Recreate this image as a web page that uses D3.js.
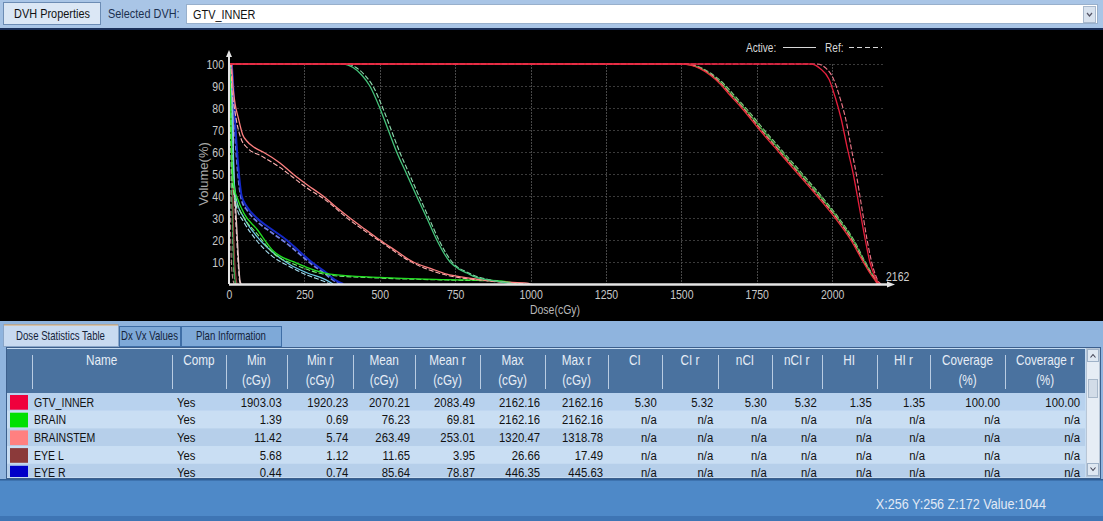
<!DOCTYPE html>
<html lang="en">
<head>
<meta charset="UTF-8">
<title>DVH Dose Statistics</title>
<script src="https://d3js.org/d3.v7.min.js"></script>
<style>
  body { margin: 0; background: #a9c5e6; overflow: hidden; }
  svg { display: block; font-family: "Liberation Sans", Arial, sans-serif; }
</style>
</head>
<body>
<div id="app"></div>
<script>
// ---- chart data (dose in cGy, volume in %) ----
const doseTicks = [0, 250, 500, 750, 1000, 1250, 1500, 1750, 2000];
const volumeTicks = [10, 20, 30, 40, 50, 60, 70, 80, 90, 100];
const doseMax = 2162;

const gtvActive = [[0,100],[1930,100],[1960,98],[1990,93],[2010,85],[2030,75],[2050,62],[2070,50],[2090,35],[2110,20],[2125,10],[2140,4],[2150,1],[2160,0]];
const gtvRef = [[0,100],[1950,100],[1980,98],[2005,93],[2025,85],[2045,75],[2063,62],[2080,50],[2098,35],[2116,20],[2131,10],[2144,4],[2154,1],[2162,0]];
const ptvActive = [[0,100],[1500,100],[1530,99.5],[1560,98],[1595,95],[1628,91],[1660,86],[1700,80],[1760,70],[1823,60],[1887,50],[1950,40],[2010,30],[2062,20],[2103,10],[2125,5],[2143,1.5],[2150,0]];
const ptvRef = [[0,100],[1505,100],[1535,99.5],[1565,98],[1600,95],[1633,91],[1665,86],[1705,80],[1765,70],[1828,60],[1892,50],[1955,40],[2015,30],[2066,20],[2106,10],[2128,5],[2145,1.5],[2152,0]];
const ctvActive = [[0,100],[1500,100],[1535,99.5],[1565,98],[1600,95],[1635,91],[1668,86],[1708,80],[1769,70],[1832,60],[1896,50],[1959,40],[2018,30],[2069,20],[2108,10],[2129,5],[2146,1.5],[2155,0]];
const ctvRef = [[0,100],[1505,100],[1540,99.5],[1570,98],[1606,95],[1641,91],[1674,86],[1714,80],[1775,70],[1838,60],[1902,50],[1964,40],[2022,30],[2072,20],[2110,10],[2131,5],[2148,1.5],[2157,0]];
const chiasmActive = [[0,100],[380,100],[395,99.5],[410,98.5],[440,95],[467,90],[500,80],[528,70],[556,60],[589,50],[622,40],[656,30],[689,20],[733,10],[760,7],[789,5],[820,3],[855,2],[900,1],[942,0]];
const chiasmRef = [[0,100],[392,100],[405,99.5],[420,98.5],[450,95],[477,90],[510,80],[538,70],[566,60],[598,50],[630,40],[663,30],[696,20],[740,10],[795,5],[860,2],[905,1],[945,0]];
const brainstemActive = [[0,100],[8,100],[13,90],[20,82],[30,76],[45,68],[59,65],[85,62],[113,60],[169,55],[212,50],[260,45],[312,40],[355,35],[401,30],[450,25],[500,20],[555,15],[611,10],[670,7],[722,4.5],[780,3],[832,2],[900,1],[988,0.4],[1000,0]];
const brainstemRef = [[0,100],[6,100],[10,88],[18,80],[25,74],[40,66],[60,62],[110,58],[169,53],[212,48.5],[260,43.5],[312,39],[401,29],[500,19.5],[611,9.5],[722,4],[832,1.8],[900,0.9],[985,0]];
const eyeRActive = [[0,100],[9,100],[14,90],[18,80],[22,70],[27,60],[33,50],[42,40],[60,35],[92,30],[140,25],[191,20],[232,15],[274,10],[324,5],[350,2],[379,0]];
const eyeRRef = [[0,100],[8,100],[13,88],[17,77],[21,66],[26,56],[32,47],[42,38],[60,33.5],[92,28.5],[140,23.5],[191,18.5],[235,13.5],[274,9],[320,4.5],[345,1.8],[372,0]];
const nerveLActive = [[0,100],[4,100],[8,90],[11,75],[14,60],[18,45],[25,38],[50,30],[90,22],[140,15],[200,9],[260,5],[320,2],[345,0]];
const nerveLRef = [[0,100],[3,98],[6,85],[9,70],[12,55],[16,42],[25,35],[50,28],[90,20],[140,13],[200,8],[260,4],[310,1.5],[335,0]];
const brainActive = [[0,100],[2,99],[5,85],[8,65],[12,50],[18,43],[25,40],[50,32],[92,25],[147,15],[224,9.5],[335,4.5],[500,3],[722,2],[888,1.5],[942,0.5],[960,0]];
const brainRef = [[0,100],[2,97],[4,80],[7,60],[10,48],[16,41],[25,37],[50,30],[92,23],[147,14],[224,8.5],[335,4],[500,2.7],[722,1.8],[888,1.3],[942,0.3],[950,0]];
const nerveRActive = [[0,100],[3,95],[6,80],[9,55],[12,30],[16,10],[20,2],[24,0]];
const nerveRRef = [[0,100],[2,93],[5,75],[8,50],[11,28],[15,9],[19,2],[22,0]];
const lensActive = [[0,100],[10,100],[13,80],[15,55],[20,40],[26,25],[31,12],[36,2],[40,0]];
const lensRef = [[0,100],[9,100],[12,78],[14,52],[19,37],[25,22],[30,10],[35,1.5],[38,0]];
const eyeLActive = [[0,100],[5,100],[7,90],[9,70],[12,45],[15,25],[19,10],[23,3],[26.7,0]];
const eyeLRef = [[0,100],[1,100],[2,80],[3,50],[5,25],[8,10],[12,3],[17.5,0]];

const curves = [
  { color: "#2ea84a", width: 1.3, active: nerveRActive, ref: nerveRRef },
  { color: "#e6c4c4", width: 1.3, active: lensActive, ref: lensRef },
  { color: "#8b3a3a", width: 1.3, active: eyeLActive, ref: eyeLRef },
  { color: "#6cc8e6", width: 1.3, active: nerveLActive, ref: nerveLRef },
  { color: "#1428c8", width: 2, active: eyeRActive, ref: eyeRRef },
  { color: "#22e022", width: 1.3, active: brainActive, ref: brainRef },
  { color: "#ff8080", width: 1.3, active: brainstemActive, ref: brainstemRef },
  { color: "#44c47a", width: 1.3, active: chiasmActive, ref: chiasmRef },
  { color: "#3fae3f", width: 1.3, active: ctvActive, ref: ctvRef },
  { color: "#e8303a", width: 1.3, active: ptvActive, ref: ptvRef },
  { color: "#e61e3c", width: 1.3, active: gtvActive, ref: gtvRef }
];

// ---- table data ----
const headerTop = ["Name", "Comp", "Min", "Min r", "Mean", "Mean r", "Max", "Max r", "CI", "CI r", "nCI", "nCI r", "HI", "HI r", "Coverage", "Coverage r"];
const headerSub = ["", "", "(cGy)", "(cGy)", "(cGy)", "(cGy)", "(cGy)", "(cGy)", "", "", "", "", "", "", "(%)", "(%)"];
const rowNames = ["GTV_INNER", "BRAIN", "BRAINSTEM", "EYE L", "EYE R"];
const rowColors = ["#f0003c", "#00e000", "#ff8080", "#8b3a3a", "#0000c8"];
const rowComp = ["Yes", "Yes", "Yes", "Yes", "Yes"];
const minDose = [1903.03, 1.39, 11.42, 5.68, 0.44];
const minDoseRef = [1920.23, 0.69, 5.74, 1.12, 0.74];
const meanDose = [2070.21, 76.23, 263.49, 11.65, 85.64];
const meanDoseRef = [2083.49, 69.81, 253.01, 3.95, 78.87];
const maxDose = [2162.16, 2162.16, 1320.47, 26.66, 446.35];
const maxDoseRef = [2162.16, 2162.16, 1318.78, 17.49, 445.63];
const ciVals = [5.30, null, null, null, null];
const ciRefVals = [5.32, null, null, null, null];
const nciVals = [5.30, null, null, null, null];
const nciRefVals = [5.32, null, null, null, null];
const hiVals = [1.35, null, null, null, null];
const hiRefVals = [1.35, null, null, null, null];
const coverage = [100.00, null, null, null, null];
const coverageRef = [100.00, null, null, null, null];

const W = 1103, H = 521;
const svg = d3.select("#app").append("svg").attr("width", W).attr("height", H);

// narrow text: the app uses a condensed face, squeeze Liberation Sans horizontally
function label(g, x, y, s, size, fill, anchor, sx) {
  return g.append("text")
    .attr("transform", `translate(${x},${y}) scale(${sx || 0.84},1)`)
    .attr("text-anchor", anchor || "start")
    .attr("font-size", size).attr("fill", fill).text(s);
}

// ---- top bar ----
svg.append("rect").attr("width", W).attr("height", 29).attr("fill", "#a9c5e6");
svg.append("rect").attr("x", 3.5).attr("y", 2.5).attr("width", 97).attr("height", 22)
  .attr("fill", "#dbe7f5").attr("stroke", "#6c8cb4");
label(svg, 52, 18, "DVH Properties", 13, "#111", "middle");
label(svg, 108, 18, "Selected DVH:", 13, "#1c3050");
svg.append("rect").attr("x", 186.5).attr("y", 4.5).attr("width", 911).attr("height", 19)
  .attr("fill", "#fff").attr("stroke", "#98b0cc");
label(svg, 193, 19, "GTV_INNER", 13, "#111");
svg.append("rect").attr("x", 1083.5).attr("y", 6.5).attr("width", 12).attr("height", 16)
  .attr("fill", "#d8e2ee").attr("stroke", "#a8b8cc");
svg.append("path").attr("d", "M1087,13 L1089.5,16 L1092,13").attr("fill", "none").attr("stroke", "#556").attr("stroke-width", 1.2);

// ---- chart panel ----
svg.append("rect").attr("y", 29).attr("width", W).attr("height", 292).attr("fill", "#000");
svg.append("rect").attr("y", 28).attr("width", W).attr("height", 2).attr("fill", "#1a2f58");

const x = d3.scaleLinear().domain([0, doseMax]).range([229, 881]);
const y = d3.scaleLinear().domain([0, 100]).range([284, 64]);

const chart = svg.append("g");

// grid
chart.append("g").selectAll("line").data(volumeTicks).join("line")
  .attr("x1", x(0)).attr("x2", x(doseMax) + 2)
  .attr("y1", d => y(d) + 0.5).attr("y2", d => y(d) + 0.5)
  .attr("stroke", "#3a3a3a").attr("stroke-dasharray", "2,2");
chart.append("g").selectAll("line").data(doseTicks.filter(d => d > 0)).join("line")
  .attr("x1", d => Math.round(x(d)) + 0.5).attr("x2", d => Math.round(x(d)) + 0.5)
  .attr("y1", y(100)).attr("y2", y(0))
  .attr("stroke", "#474747").attr("stroke-dasharray", "2,1");

// axes tick labels
const xAxis = chart.append("g").attr("transform", `translate(0,${y(0)})`)
  .call(d3.axisBottom(x).tickValues(doseTicks).tickSize(0).tickPadding(6).tickFormat(d3.format("d")));
const yAxis = chart.append("g").attr("transform", `translate(${x(0) - 5},0)`)
  .call(d3.axisLeft(y).tickValues(volumeTicks).tickSize(0).tickPadding(0));
[xAxis, yAxis].forEach(a => {
  a.select(".domain").remove();
  a.selectAll("text").attr("fill", "#c8c8c8").attr("font-size", 12.5)
    .style("font-family", "inherit").attr("transform", "scale(0.84,1)");
});

// curves
const clip = svg.append("clipPath").attr("id", "plotclip");
clip.append("rect").attr("x", x(0)).attr("y", y(100) - 3).attr("width", x(doseMax) - x(0) + 3).attr("height", y(0) - y(100) + 3);

const line = d3.line().x(d => x(d[0])).y(d => y(d[1])).curve(d3.curveMonotoneX);
const curveG = chart.append("g").attr("clip-path", "url(#plotclip)");
curves.forEach(c => {
  curveG.append("path").datum(c.ref).attr("d", line).attr("fill", "none")
    .attr("stroke", d3.interpolateRgb(c.color, "#ffffff")(0.4)).attr("stroke-width", c.width - 0.2)
    .attr("stroke-dasharray", "5,2");
  curveG.append("path").datum(c.active).attr("d", line).attr("fill", "none")
    .attr("stroke", c.color).attr("stroke-width", c.width);
});

// axis lines with arrows
chart.append("line").attr("x1", x(0)).attr("x2", 891).attr("y1", y(0) + 0.5).attr("y2", y(0) + 0.5)
  .attr("stroke", "#e4e4e4").attr("stroke-width", 2.5);
chart.append("path").attr("d", `M895,${y(0) + 0.5} L887,${y(0) - 2.5} L887,${y(0) + 3.5}Z`).attr("fill", "#e4e4e4");
chart.append("line").attr("x1", x(0)).attr("x2", x(0)).attr("y1", y(0)).attr("y2", 54)
  .attr("stroke", "#e4e4e4").attr("stroke-width", 2);
chart.append("path").attr("d", `M${x(0)},50 L${x(0) - 3},57 L${x(0) + 3},57Z`).attr("fill", "#e4e4e4");

label(chart, 886, 281, doseMax, 12.5, "#d0d0d0");
label(chart, 555, 314, "Dose(cGy)", 12.5, "#b8b8b8", "middle");
chart.append("text").attr("transform", `translate(208,${y(50)}) rotate(-90)`).attr("text-anchor", "middle")
  .attr("font-size", 13).attr("fill", "#a8a8a8").text("Volume(%)");

// legend
label(chart, 746, 52, "Active:", 12, "#d8d8d8");
chart.append("line").attr("x1", 783).attr("x2", 816).attr("y1", 47.5).attr("y2", 47.5).attr("stroke", "#d8d8d8");
label(chart, 825, 52, "Ref:", 12, "#d8d8d8");
chart.append("line").attr("x1", 849).attr("x2", 882).attr("y1", 47.5).attr("y2", 47.5).attr("stroke", "#d8d8d8").attr("stroke-dasharray", "5,3");

// ---- tabs ----
svg.append("rect").attr("y", 321).attr("width", W).attr("height", 160).attr("fill", "#8fb4de");
const tabs = [
  { label: "Dose Statistics Table", x0: 3, x1: 118, active: true },
  { label: "Dx Vx Values", x0: 119, x1: 180, active: false },
  { label: "Plan Information", x0: 181, x1: 281, active: false }
];
tabs.forEach(t => {
  svg.append("rect").attr("x", t.x0 + 0.5).attr("y", t.active ? 324.5 : 326.5)
    .attr("width", t.x1 - t.x0).attr("height", t.active ? 22 : 20)
    .attr("fill", t.active ? "#c8daf0" : "#7ea9d8").attr("stroke", t.active ? "#8aa6c8" : "#3f6ea6");
  label(svg, (t.x0 + t.x1) / 2, 340, t.label, 12, "#14233a", "middle", 0.8);
});
svg.append("line").attr("x1", 4).attr("x2", 118).attr("y1", 325).attr("y2", 325).attr("stroke", "#e0a860");

// ---- table ----
const colEdges = [7, 31.7, 171.7, 226, 286.7, 353.3, 415, 480, 545, 608, 661.7, 718.3, 771.7, 821.7, 876.7, 930, 1005, 1085];
const tableTop = 347, headerBottom = 393, tableBottom = 478, rowH = 17.7;

svg.append("rect").attr("x", 6.5).attr("y", tableTop + 0.5).attr("width", 1094).attr("height", tableBottom - tableTop)
  .attr("fill", "#c6dcf2").attr("stroke", "#3c5f8c");
svg.append("rect").attr("x", 7).attr("y", tableTop + 2).attr("width", 1078).attr("height", headerBottom - tableTop - 2)
  .attr("fill", "#4a729f");
svg.append("g").selectAll("line").data(colEdges.slice(1, 17)).join("line")
  .attr("x1", d => Math.round(d) + 0.5).attr("x2", d => Math.round(d) + 0.5)
  .attr("y1", 355).attr("y2", 389).attr("stroke", "#b9cce2");
headerTop.forEach((h, i) => {
  const cx = (colEdges[i + 1] + colEdges[i + 2]) / 2;
  label(svg, cx, 365, h, 14, "#e6edf6", "middle");
  if (headerSub[i]) label(svg, cx, 385, headerSub[i], 14, "#e6edf6", "middle");
});

const tclip = svg.append("clipPath").attr("id", "tableclip");
tclip.append("rect").attr("x", 7).attr("y", headerBottom).attr("width", 1078).attr("height", tableBottom - headerBottom - 1);
const body = svg.append("g").attr("clip-path", "url(#tableclip)");

const numCols = [minDose, minDoseRef, meanDose, meanDoseRef, maxDose, maxDoseRef, ciVals, ciRefVals,
  nciVals, nciRefVals, hiVals, hiRefVals, coverage, coverageRef];
const rowFill = ["#b8d2ee", "#c9def3", "#b6cfea", "#c9def3", "#b6cfea"];

rowNames.forEach((name, r) => {
  const top = headerBottom + r * rowH;
  const base = top + 13.5;
  body.append("rect").attr("x", 7).attr("y", top).attr("width", 1078).attr("height", rowH).attr("fill", rowFill[r]);
  body.append("rect").attr("x", 10).attr("y", top + 2).attr("width", 18).attr("height", rowH - 3).attr("fill", rowColors[r]);
  label(body, 34, base, name, 13.5, "#111", "start", 0.78);
  label(body, 177, base, rowComp[r], 13.5, "#111");
  numCols.forEach((col, c) => {
    const v = col[r];
    label(body, colEdges[c + 4] - 5, base, v === null ? "n/a" : v.toFixed(2), 13.5, "#111", "end");
  });
});

// scrollbar
svg.append("rect").attr("x", 1086.5).attr("y", 348.5).attr("width", 13).attr("height", 128).attr("fill", "#e6edf5").attr("stroke", "#b8c6d6");
svg.append("rect").attr("x", 1087.5).attr("y", 349.5).attr("width", 11).attr("height", 12).attr("fill", "#dfe8f2").attr("stroke", "#9fb2c8");
svg.append("rect").attr("x", 1087.5).attr("y", 463.5).attr("width", 11).attr("height", 12).attr("fill", "#dfe8f2").attr("stroke", "#9fb2c8");
svg.append("rect").attr("x", 1088.5).attr("y", 379.5).attr("width", 9).attr("height", 18).attr("fill", "#d2dce8").attr("stroke", "#a8b8ca");
svg.append("path").attr("d", "M1090.5,357.5 L1093,354.5 L1095.5,357.5").attr("fill", "none").attr("stroke", "#445").attr("stroke-width", 1.1);
svg.append("path").attr("d", "M1090.5,467.5 L1093,470.5 L1095.5,467.5").attr("fill", "none").attr("stroke", "#445").attr("stroke-width", 1.1);

// ---- status bar ----
svg.append("rect").attr("y", 480).attr("width", W).attr("height", 41).attr("fill", "#4e89c8");
svg.append("rect").attr("y", 479).attr("width", W).attr("height", 1.5).attr("fill", "#2f5f96");
svg.append("rect").attr("y", 516).attr("width", W).attr("height", 5).attr("fill", "#3e75b4");
label(svg, 1046, 509, "X:256 Y:256 Z:172  Value:1044", 14, "#e2eaf5", "end", 0.9);
</script>
</body>
</html>
